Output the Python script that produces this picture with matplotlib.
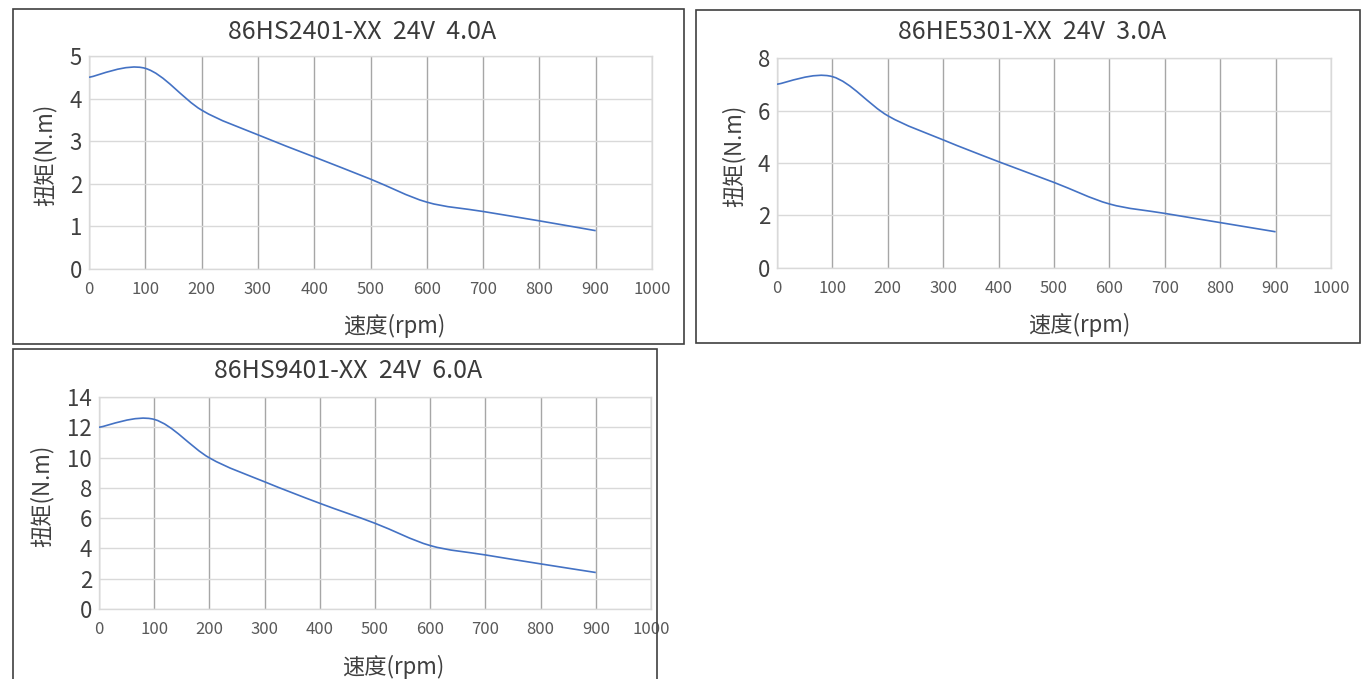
import matplotlib
matplotlib.use("Agg")
import matplotlib.pyplot as plt
from matplotlib.path import Path
from matplotlib.patches import PathPatch, Rectangle

plt.rcParams['font.family'] = ['Noto Sans CJK SC', 'DejaVu Sans']

speed = [0, 100, 200, 300, 400, 500, 600, 700, 800, 900]
torque1 = [4.50, 4.71, 3.73, 3.15, 2.63, 2.11, 1.57, 1.35, 1.13, 0.90]
torque2 = [7.00, 7.29, 5.80, 4.88, 4.05, 3.26, 2.44, 2.08, 1.73, 1.38]
torque3 = [12.00, 12.52, 9.98, 8.40, 6.98, 5.66, 4.19, 3.57, 2.98, 2.41]

titles = ["86HS2401-XX  24V  4.0A", "86HE5301-XX  24V  3.0A", "86HS9401-XX  24V  6.0A"]
ymaxs = [5, 8, 14]
ysteps = [1, 2, 2]
xticks = [0, 100, 200, 300, 400, 500, 600, 700, 800, 900, 1000]

W, H = 1361, 679
fig = plt.figure(figsize=(W / 100, H / 100), dpi=100)


def px(x0, y0, x1, y1):
    # pixel box (top-left origin) -> figure fraction rect
    return [x0 / W, 1 - y1 / H, (x1 - x0) / W, (y1 - y0) / H]


def smooth_path(xs, ys):
    # excel-like smoothed line: cubic bezier between data points
    pts = list(zip(xs, ys))
    verts = [pts[0]]
    codes = [Path.MOVETO]
    n = len(pts)
    for i in range(n - 1):
        p0 = pts[i - 1] if i > 0 else pts[i]
        p1 = pts[i]
        p2 = pts[i + 1]
        p3 = pts[i + 2] if i + 2 < n else pts[i + 1]
        c1 = (p1[0] + (p2[0] - p0[0]) / 6, p1[1] + (p2[1] - p0[1]) / 6)
        c2 = (p2[0] - (p3[0] - p1[0]) / 6, p2[1] - (p3[1] - p1[1]) / 6)
        verts += [c1, c2, p2]
        codes += [Path.CURVE4] * 3
    return Path(verts, codes)


def panel(frame, axbox, title, title_xy, ys, ymax, ystep, ylab_xy, xlab_xy, ypad):
    fig.patches.append(Rectangle((frame[0], frame[1]), frame[2], frame[3], transform=fig.transFigure,
                                 fill=False, edgecolor='#3f3f3f', linewidth=1.2))
    ax = fig.add_axes(axbox)
    ax.add_patch(PathPatch(smooth_path(speed, ys), fill=False, edgecolor='#4472C4', linewidth=1.2, zorder=3))
    ax.set_xlim(0, 1000)
    ax.set_ylim(0, ymax)
    ax.set_xticks(xticks)
    ax.set_yticks(range(0, ymax + 1, ystep))
    ax.set_axisbelow(True)
    ax.xaxis.grid(True, color='#a6a6a6', linewidth=1.0)
    ax.yaxis.grid(True, color='#d9d9d9', linewidth=1.0)
    for s in ax.spines.values():
        s.set_color('#d9d9d9')
        s.set_linewidth(1.0)
    ax.tick_params(axis='x', length=0, pad=9, labelsize=12, labelcolor='#595959')
    ax.tick_params(axis='y', length=0, pad=ypad, labelsize=16, labelcolor='#404040')
    ax.set_ylabel("扭矩(N.m)", fontsize=16, color='#404040')
    ax.set_xlabel("速度(rpm)", fontsize=16, color='#404040')
    ax.yaxis.set_label_coords(*ylab_xy)
    ax.xaxis.set_label_coords(*xlab_xy)
    fig.text(title_xy[0] / W, 1 - title_xy[1] / H, title, ha='center', va='center',
             fontsize=18, color='#3a3a3a')
    return ax


panel(px(13, 9, 684, 344), px(89, 56, 652, 269), titles[0], (362, 32), torque1, ymaxs[0], ysteps[0],
      (-0.057, 0.535), (0.542, -0.21), 5)
panel(px(696, 10, 1360, 343), px(777, 58, 1331, 268), titles[1], (1032, 32), torque2, ymaxs[1], ysteps[1],
      (-0.056, 0.535), (0.545, -0.213), 5)
panel(px(13, 349, 657, 684), px(99, 397, 651, 609), titles[2], (348, 371), torque3, ymaxs[2], ysteps[2],
      (-0.083, 0.533), (0.533, -0.216), 5)

fig.savefig("out.png", dpi=100)
